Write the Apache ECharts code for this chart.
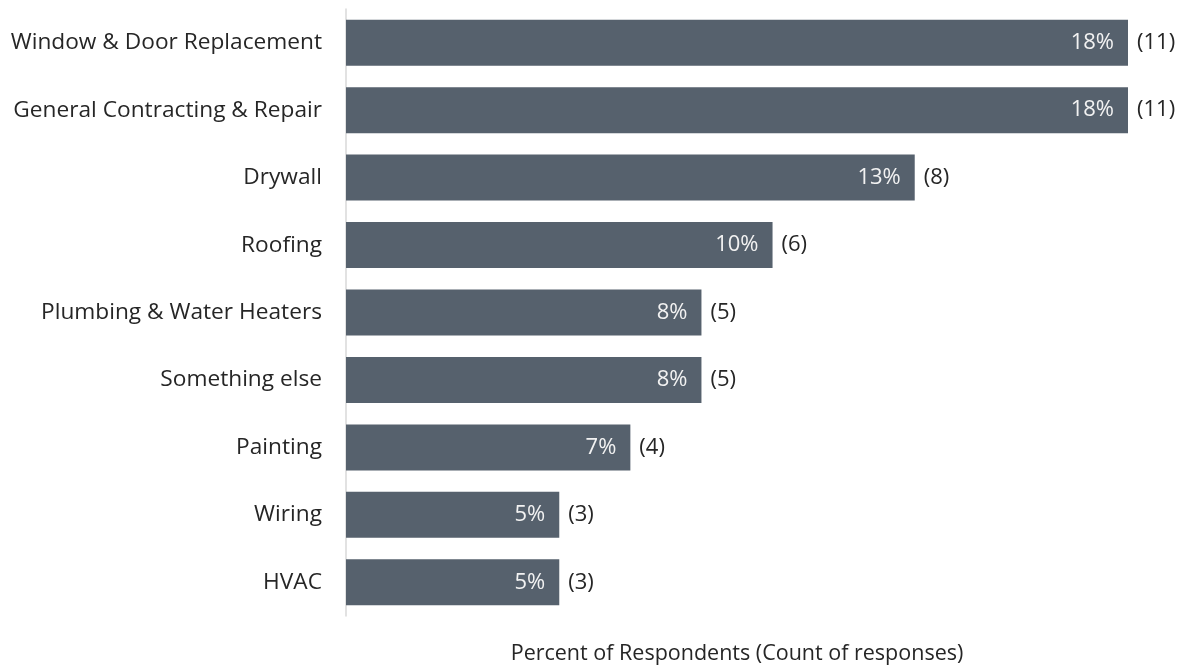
<!DOCTYPE html>
<html>
<head>
<meta charset="utf-8">
<script src="https://cdn.jsdelivr.net/npm/echarts@6/dist/echarts.min.js"></script>
<style>
  html, body { margin: 0; padding: 0; background: #ffffff; }
  #chart { width: 1185px; height: 666px; }
</style>
</head>
<body>
<div id="chart"></div>
<script>
// Services respondents reported, top to bottom
const categories = [
  'Window & Door Replacement',
  'General Contracting & Repair',
  'Drywall',
  'Roofing',
  'Plumbing & Water Heaters',
  'Something else',
  'Painting',
  'Wiring',
  'HVAC'
];
// Count of responses per service
const counts = [11, 11, 8, 6, 5, 5, 4, 3, 3];
// Share of respondents, as printed on each bar
const percents = ['18%', '18%', '13%', '10%', '8%', '8%', '7%', '5%', '5%'];

const FONT = '"Open Sans", "Noto Sans", sans-serif';
const FONT_SIZE = 22.7;
const BAR_COLOR = '#56616d';

const chart = echarts.init(document.getElementById('chart'), null, { renderer: 'canvas' });

chart.setOption({
  animation: false,
  grid: {
    left: 346, right: 57, top: 9, height: 607,
    containLabel: false,
    outerBoundsMode: 'none'
  },
  xAxis: {
    type: 'value',
    min: 0,
    max: 11,
    show: true,
    axisLine: { show: false },
    axisTick: { show: false },
    axisLabel: { show: false },
    splitLine: { show: false },
    name: 'Percent of Respondents (Count of responses)',
    nameLocation: 'middle',
    nameGap: 27,
    nameTextStyle: { fontFamily: FONT, fontSize: 21.5, color: '#262626' }
  },
  yAxis: {
    type: 'category',
    data: categories,
    inverse: true,
    axisLine: { show: true, lineStyle: { color: '#d9d9d9', width: 1.5 } },
    axisTick: { show: false },
    axisLabel: { margin: 24, fontFamily: FONT, fontSize: FONT_SIZE, color: '#262626' }
  },
  series: [
    {
      type: 'bar',
      data: counts,
      barWidth: 46,
      itemStyle: { color: BAR_COLOR },
      label: {
        show: true,
        position: 'insideRight',
        distance: 14,
        fontFamily: FONT,
        fontSize: 22,
        color: '#f2f2f2',
        formatter: p => percents[p.dataIndex]
      }
    },
    {
      type: 'bar',
      data: counts,
      barWidth: 46,
      barGap: '-100%',
      itemStyle: { color: 'rgba(0,0,0,0)' },
      silent: true,
      label: {
        show: true,
        position: 'right',
        distance: 9,
        fontFamily: FONT,
        fontSize: 22,
        color: '#262626',
        formatter: p => '(' + p.value + ')'
      }
    }
  ]
});
</script>
</body>
</html>
